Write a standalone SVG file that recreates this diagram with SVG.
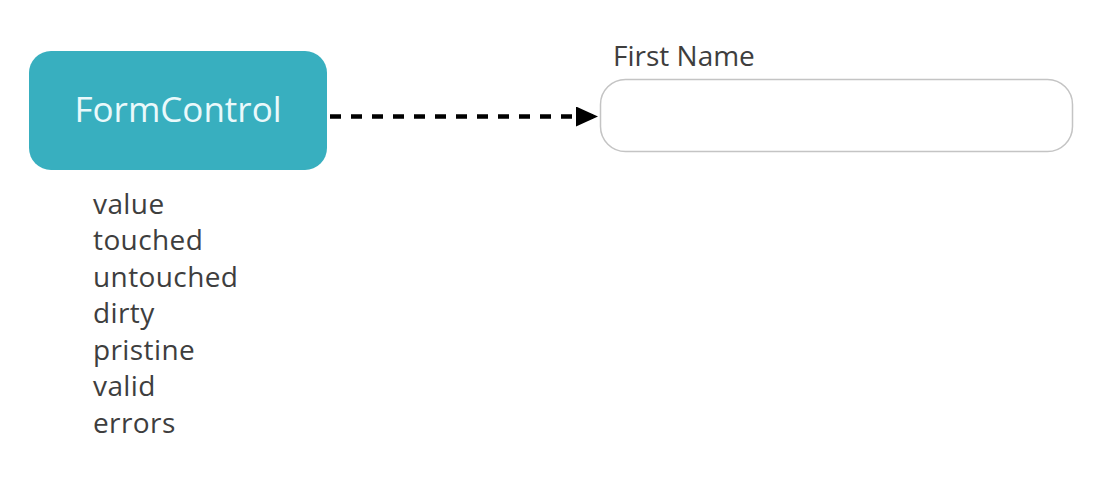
<svg xmlns="http://www.w3.org/2000/svg" width="1106" height="480" viewBox="0 0 1106 480">
<style>
.prop{font-family:"Open Sans","Liberation Sans",sans-serif;font-size:28px;letter-spacing:0.4px;fill:#3e3e3e}
</style>
<defs>
<marker id="ah" markerWidth="22" markerHeight="20" refX="22" refY="10" markerUnits="userSpaceOnUse" orient="auto">
<path d="M0,0 L22,10 L0,20 Z" fill="#000"/>
</marker>
</defs>
<rect width="1106" height="480" fill="#fff"/>
<g id="formcontrol">
<rect x="29" y="51" width="298" height="119" rx="22" fill="#38afbf"/>
<text x="178" y="122" text-anchor="middle" font-family="'Open Sans','Liberation Sans',sans-serif" font-size="35" fill="#eaf9fb">FormControl</text>
</g>
<g id="props">
<text class="prop" x="93" y="214">value</text>
<text class="prop" x="93" y="250">touched</text>
<text class="prop" x="93" y="287">untouched</text>
<text class="prop" x="93" y="323">dirty</text>
<text class="prop" x="93" y="360">pristine</text>
<text class="prop" x="93" y="396">valid</text>
<text class="prop" x="93" y="433">errors</text>
</g>
<g id="firstname">
<text x="613" y="66" font-family="'Open Sans','Liberation Sans',sans-serif" font-size="28" fill="#3e3e3e">First Name</text>
<rect x="600.5" y="79.5" width="472" height="72" rx="25" fill="#fff" stroke="#c4c4c4" stroke-width="1.5"/>
</g>
<g id="connectors">
<line x1="330" y1="116.5" x2="598" y2="116.5" stroke="#000" stroke-width="4.5" stroke-dasharray="11 10" marker-end="url(#ah)"/>
</g>
</svg>
